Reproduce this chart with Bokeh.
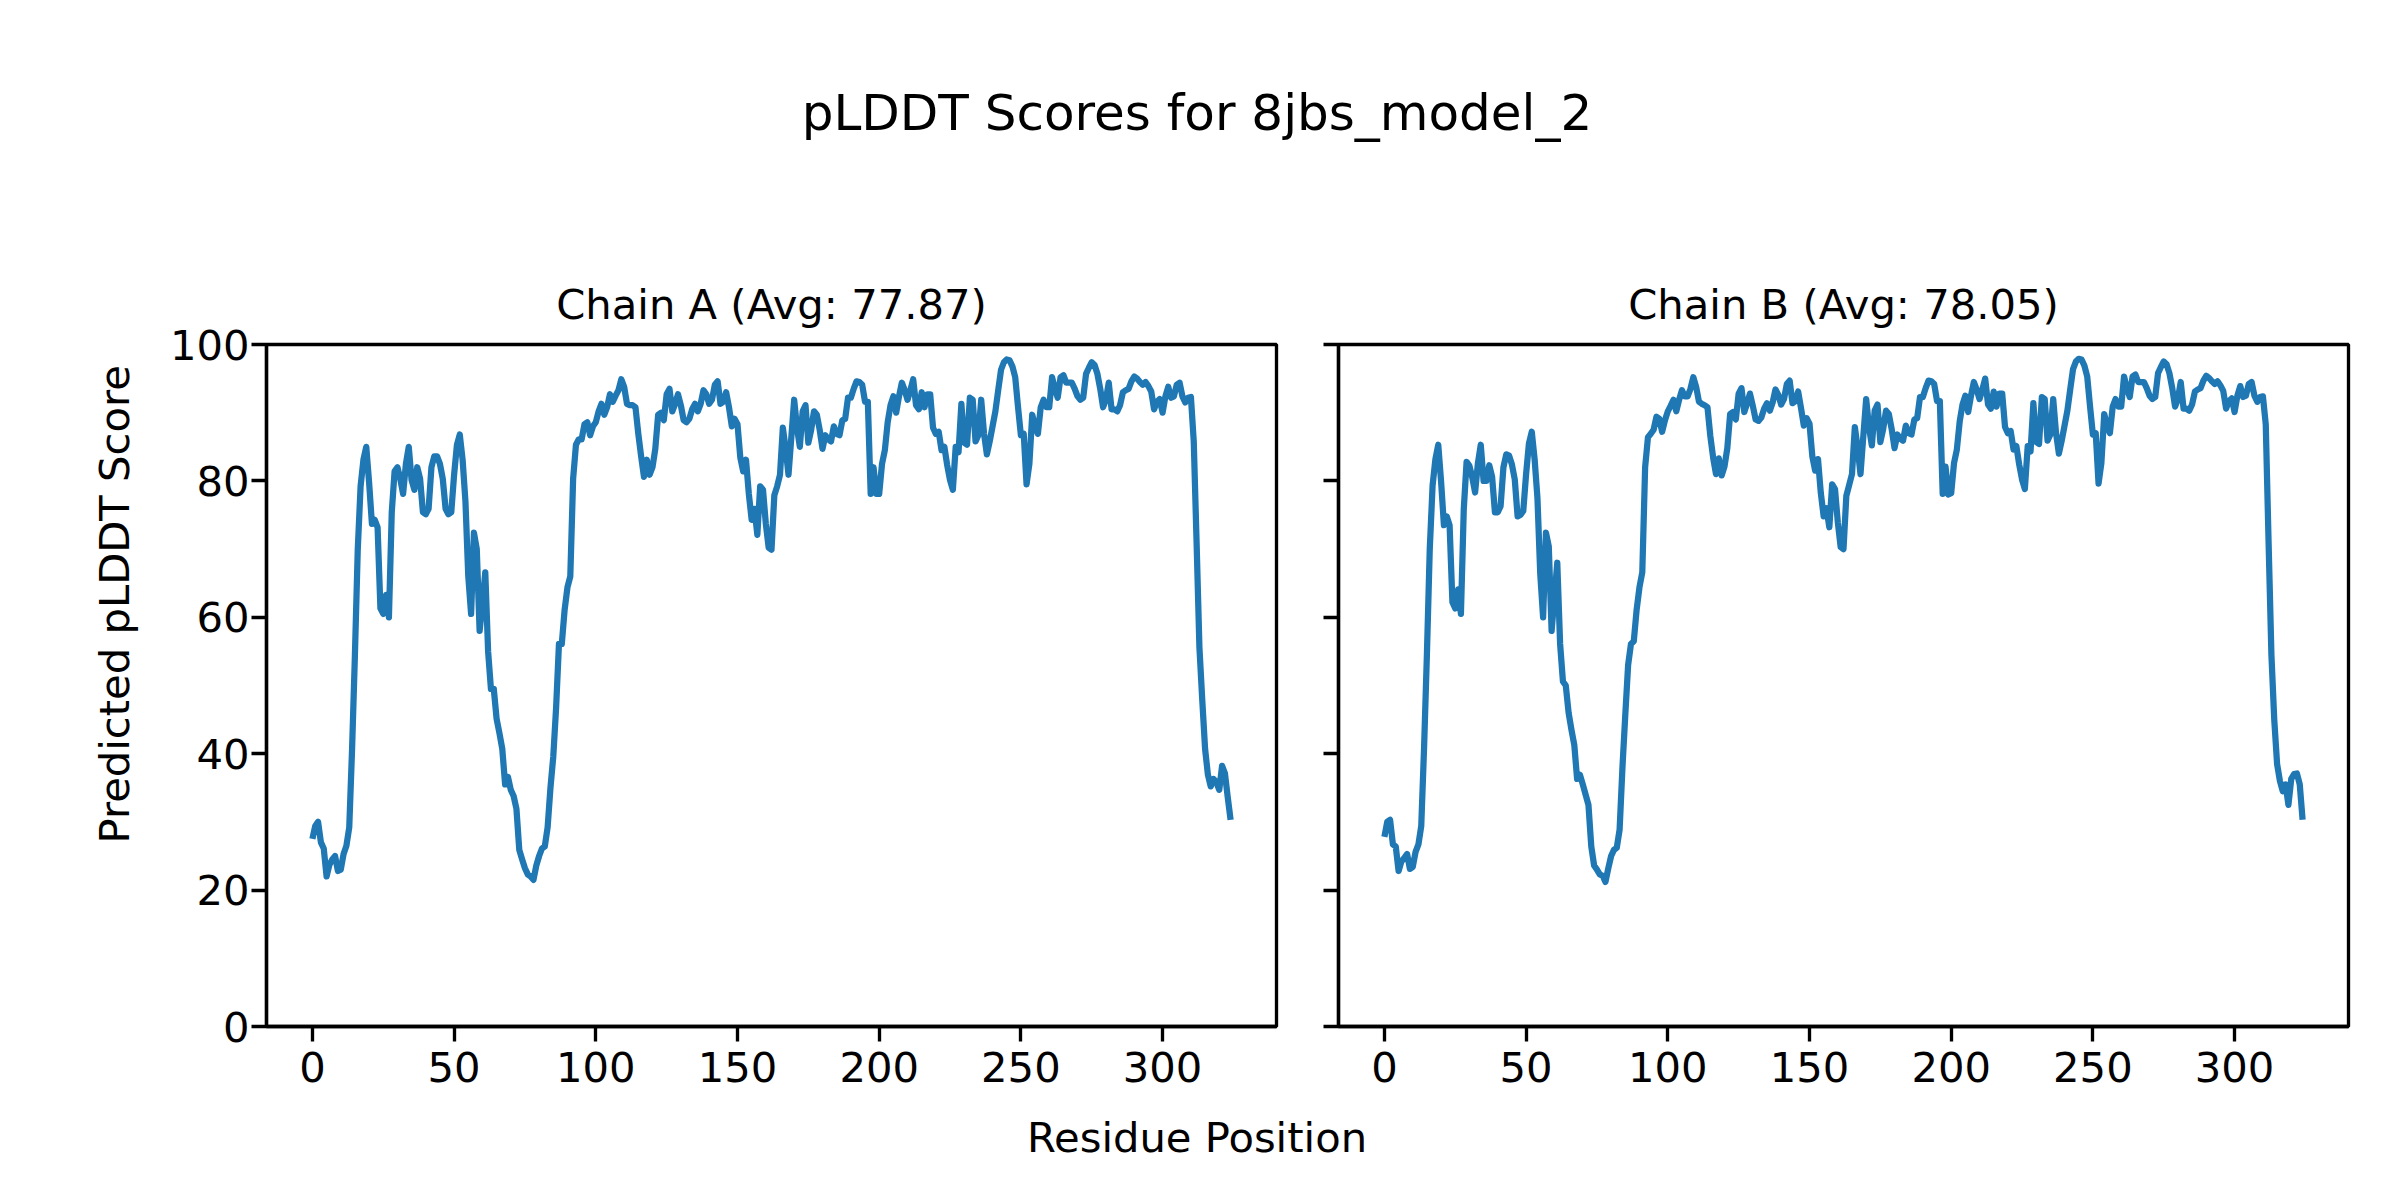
from bokeh.plotting import figure
from bokeh.models import FixedTicker, Div, Range1d, Title
from bokeh.layouts import row, column
from bokeh.embed import file_html
from bokeh.resources import INLINE

SUPTITLE = "pLDDT Scores for 8jbs_model_2"
XLABEL = "Residue Position"
YLABEL = "Predicted pLDDT Score"
titles = ["Chain A (Avg: 77.87)", "Chain B (Avg: 78.05)"]
x_ticks = [0, 50, 100, 150, 200, 250, 300]
y_ticks = [0, 20, 40, 60, 80, 100]

chain_a = [
    27.5, 29.4, 30.0, 27.0, 26.1, 22.0, 23.7, 24.5, 25.0, 22.8,
    23.0, 25.3, 26.5, 29.2, 40.7, 54.5, 69.9, 79.2, 83.1, 85.0,
    79.8, 73.7, 74.3, 73.2, 61.3, 60.5, 63.3, 60.0, 75.4, 81.4,
    82.0, 80.3, 78.1, 82.5, 85.0, 80.1, 78.7, 82.0, 80.3, 75.4,
    75.1, 75.9, 82.0, 83.6, 83.6, 82.5, 80.3, 75.9, 75.1, 75.4,
    80.9, 85.3, 86.8, 83.1, 77.0, 66.0, 60.5, 72.4, 70.0, 58.0,
    62.0, 66.6, 55.0, 49.5, 49.5, 45.1, 43.0, 40.7, 35.5, 36.6,
    34.7, 33.8, 31.9, 25.9, 24.5, 23.2, 22.3, 22.0, 21.5, 23.6,
    25.0, 26.1, 26.4, 29.2, 35.0, 39.6, 46.8, 56.1, 56.1, 61.1,
    64.4, 66.0, 80.3, 85.3, 86.1, 86.1, 88.3, 88.6, 86.7, 88.0,
    88.6, 90.2, 91.3, 89.7, 90.8, 92.7, 91.6, 92.5, 93.3, 94.9,
    93.8, 91.3, 91.1, 91.1, 90.8, 86.9, 83.6, 80.6, 83.1, 80.9,
    82.0, 84.7, 89.7, 90.0, 88.9, 92.7, 93.5, 90.2, 91.3, 92.7,
    91.1, 88.9, 88.6, 89.1, 90.5, 91.3, 90.2, 91.3, 93.3, 92.7,
    91.3, 91.9, 94.1, 94.6, 91.3, 91.6, 93.0, 90.8, 88.0, 89.1,
    88.3, 83.4, 81.4, 83.1, 78.1, 74.3, 75.9, 72.1, 79.2, 78.7,
    73.7, 70.2, 69.9, 77.9, 79.2, 80.9, 87.8, 84.7, 80.9, 86.4,
    91.9, 87.8, 85.0, 90.2, 91.1, 85.6, 87.5, 90.2, 89.7, 87.5,
    84.7, 86.7, 86.1, 85.8, 88.0, 86.9, 86.7, 88.9, 89.1, 92.2,
    92.2, 93.5, 94.6, 94.5, 94.1, 91.6, 91.6, 78.1, 82.0, 78.1,
    78.1, 82.5, 84.5, 88.6, 91.1, 92.4, 90.0, 92.4, 94.4, 93.3,
    91.9, 93.3, 94.9, 91.1, 90.5, 93.0, 90.8, 92.7, 92.7, 87.8,
    86.9, 87.2, 84.5, 85.0, 82.3, 80.1, 78.7, 85.0, 84.2, 91.3,
    85.6, 85.3, 92.2, 91.9, 85.8, 86.7, 91.9, 86.9, 83.9, 85.8,
    88.0, 90.2, 93.3, 96.3, 97.4, 97.8, 97.7, 96.8, 95.2, 90.8,
    86.7, 86.9, 79.5, 82.5, 89.7, 88.0, 86.9, 90.8, 91.9, 90.8,
    90.8, 95.2, 93.5, 92.2, 95.2, 95.5, 94.4, 94.4, 94.4, 93.5,
    92.4, 91.9, 92.2, 95.7, 96.6, 97.4, 97.0, 95.7, 93.5, 90.8,
    91.9, 94.4, 90.5, 90.5, 90.2, 91.1, 93.0, 93.3, 93.5, 94.6,
    95.3, 95.0, 94.5, 94.1, 94.5, 93.9, 93.1, 90.5, 91.6, 92.0,
    90.0, 92.4, 93.8, 92.2, 92.4, 94.1, 94.4, 92.4, 91.5, 92.2,
    92.3, 85.8, 71.0, 55.6, 47.9, 40.7, 36.9, 35.2, 36.3, 35.8,
    34.7, 38.2, 37.1, 33.6, 30.3,
]

chain_b = [
    27.8, 30.0, 30.3, 26.7, 26.4, 22.8, 24.2, 24.7, 25.3, 23.1,
    23.4, 25.6, 26.7, 29.4, 40.9, 54.6, 70.0, 79.3, 83.2, 85.3,
    79.9, 73.5, 74.8, 73.5, 62.2, 61.3, 64.1, 60.5, 75.8, 82.8,
    82.2, 80.5, 78.3, 82.6, 85.3, 80.0, 80.0, 82.3, 80.6, 75.4,
    75.4, 76.3, 82.0, 83.9, 83.7, 82.4, 80.2, 74.8, 75.0, 75.6,
    81.0, 85.5, 87.2, 83.2, 77.5, 66.3, 60.0, 72.4, 70.4, 58.0,
    63.0, 68.0, 56.1, 50.6, 50.0, 46.0, 43.5, 41.3, 36.3, 36.9,
    35.5, 34.0, 32.5, 26.4, 23.6, 23.0, 22.3, 22.1, 21.2, 23.2,
    25.0, 25.9, 26.2, 28.9, 38.0, 45.7, 53.0, 56.1, 56.5, 61.1,
    64.4, 66.6, 82.0, 86.4, 86.9, 87.5, 89.4, 89.1, 87.2, 88.9,
    90.2, 91.0, 91.9, 90.2, 91.9, 93.3, 92.4, 92.4, 93.5, 95.2,
    93.8, 91.6, 91.3, 91.1, 90.8, 86.6, 83.4, 81.0, 83.3, 80.8,
    82.1, 84.8, 89.8, 90.1, 89.0, 92.8, 93.6, 90.1, 91.4, 92.8,
    91.0, 89.0, 88.8, 89.3, 90.6, 91.4, 90.3, 91.5, 93.4, 92.6,
    91.2, 92.0, 94.2, 94.7, 91.4, 91.7, 93.1, 90.7, 88.1, 89.2,
    88.4, 83.6, 81.5, 83.2, 78.2, 74.8, 76.0, 73.2, 79.5, 78.8,
    73.9, 70.3, 70.0, 77.8, 79.4, 81.0, 87.9, 84.8, 81.0, 86.6,
    92.0, 87.9, 85.2, 90.3, 91.2, 85.7, 87.6, 90.3, 89.8, 87.6,
    84.8, 86.8, 86.2, 85.9, 88.1, 87.0, 86.8, 89.0, 89.2, 92.3,
    92.3, 93.6, 94.7, 94.6, 94.2, 91.7, 91.7, 78.1, 82.1, 78.0,
    78.2, 82.6, 84.6, 88.7, 91.2, 92.5, 90.1, 92.5, 94.5, 93.4,
    92.0, 93.4, 95.0, 91.2, 90.6, 93.1, 90.9, 92.8, 92.8, 87.9,
    87.0, 87.3, 84.6, 85.1, 82.4, 80.2, 78.8, 85.1, 84.3, 91.4,
    85.7, 85.4, 92.3, 92.0, 85.9, 86.8, 92.0, 87.0, 84.0, 85.9,
    88.1, 90.3, 93.4, 96.4, 97.5, 97.9, 97.8, 96.9, 95.3, 90.9,
    86.8, 87.0, 79.6, 82.6, 89.8, 88.1, 87.0, 90.9, 92.0, 90.9,
    90.9, 95.3, 93.6, 92.3, 95.3, 95.6, 94.5, 94.5, 94.5, 93.6,
    92.5, 92.0, 92.3, 95.8, 96.7, 97.5, 97.1, 95.8, 93.6, 90.9,
    92.0, 94.5, 90.6, 90.6, 90.3, 91.2, 93.1, 93.4, 93.6, 94.7,
    95.4, 95.1, 94.6, 94.2, 94.6, 94.0, 93.2, 90.6, 91.7, 92.1,
    90.1, 92.5, 93.9, 92.3, 92.5, 94.2, 94.5, 92.5, 91.6, 92.3,
    92.4, 88.3, 71.0, 54.5, 45.0, 38.5, 36.0, 34.5, 35.5, 32.5,
    36.3, 37.0, 37.1, 35.5, 30.3,
]

residues = list(range(len(chain_a)))

FONT = "DejaVu Sans"
SPINE = 3.33
LINE_COLOR = "#1f77b4"


def make_panel(scores, title, width, left, right, show_labels):
    p = figure(width=width, height=902, output_backend="svg", toolbar_location=None,
               x_range=Range1d(-16.2, 340.2), y_range=Range1d(0, 100),
               min_border_left=left, min_border_right=right,
               min_border_top=134, min_border_bottom=86)
    p.title.text = title
    p.title.align = "center"
    p.title.text_font = FONT
    p.title.text_font_size = "41.7px"
    p.title.text_font_style = "normal"
    p.title.text_color = "black"
    p.title.standoff = 31
    p.line(residues, scores, line_color=LINE_COLOR, line_width=6.25, line_join="round")
    p.xgrid.visible = False
    p.ygrid.visible = False
    p.background_fill_color = "white"
    p.border_fill_color = "white"
    p.outline_line_color = "black"
    p.outline_line_width = SPINE
    p.outline_line_alpha = 1.0
    p.xaxis.ticker = FixedTicker(ticks=x_ticks)
    p.yaxis.ticker = FixedTicker(ticks=y_ticks)
    for ax in (p.xaxis, p.yaxis):
        ax.axis_line_width = SPINE
        ax.axis_line_color = "black"
        ax.major_tick_line_width = SPINE
        ax.major_tick_line_color = "black"
        ax.major_tick_out = 15
        ax.major_tick_in = 0
        ax.minor_tick_line_color = None
        ax.major_label_text_font = FONT
        ax.major_label_text_font_size = "41.7px"
        ax.major_label_text_color = "black"
    p.xaxis.major_label_standoff = 10
    p.yaxis.major_label_standoff = 2
    if show_labels:
        # figure-level y label, centred on the figure height, not the frame
        ylab = Title(text=YLABEL, align="left", offset=183, standoff=56,
                     text_font=FONT, text_font_size="41.7px",
                     text_font_style="normal", text_color="black")
        p.add_layout(ylab, "left")
    else:
        p.yaxis.major_label_overrides = {t: "" for t in y_ticks}
        p.yaxis.major_label_standoff = 0
    return p


pa = make_panel(chain_a, titles[0], 1307, 266, 31, True)
pb = make_panel(chain_b, titles[1], 1077, 31, 36, False)

top = Div(text=('<div style="width:2384px;text-align:center;font-family:\'DejaVu Sans\';'
                'font-size:50px;line-height:50px;padding-top:83px;color:black;">'
                + SUPTITLE + '</div>'), width=2384, height=200)
bottom = Div(text=('<div style="width:2384px;text-align:center;font-family:\'DejaVu Sans\';'
                   'font-size:41.7px;line-height:41.7px;padding-top:0px;color:black;">'
                   + XLABEL + '</div>'), width=2384, height=82)

layout = column(top, row(pa, pb), bottom)
open("out.html", "w").write(file_html(layout, INLINE))
